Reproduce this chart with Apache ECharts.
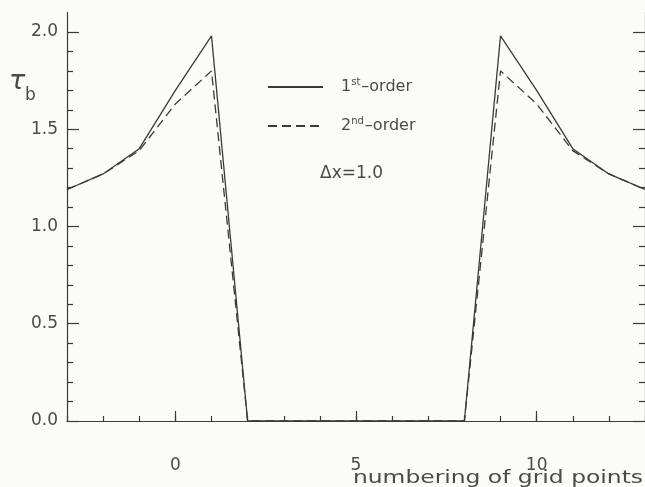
<!DOCTYPE html>
<html>
<head>
<meta charset="utf-8">
<script src="https://cdn.jsdelivr.net/npm/echarts@6/dist/echarts.min.js"></script>
<style>
  html, body { margin: 0; padding: 0; background: #fbfbf9; }
  #chart { width: 645px; height: 487px; }
</style>
</head>
<body>
<div id="chart"></div>
<script>
// Grid point numbers along the x axis
const gridPoints = [-3, -2, -1, 0, 1, 2, 3, 4, 5, 6, 7, 8, 9, 10, 11, 12, 13];
// Basal shear stress tau_b for the two schemes
const firstOrder  = [1.19, 1.27, 1.40, 1.70, 1.98, 0, 0, 0, 0, 0, 0, 0, 1.98, 1.70, 1.40, 1.27, 1.19];
const secondOrder = [1.19, 1.27, 1.39, 1.63, 1.80, 0, 0, 0, 0, 0, 0, 0, 1.80, 1.63, 1.39, 1.27, 1.19];

// Tick values
const xMajorTicks = [0, 5, 10];
const yMajorTicks = [0, 0.5, 1.0, 1.5, 2.0];
const yMinorTicks = [0.1, 0.2, 0.3, 0.4, 0.6, 0.7, 0.8, 0.9, 1.1, 1.2, 1.3, 1.4, 1.6, 1.7, 1.8, 1.9];

const ink = '#3a3a3a';
const textInk = '#4a4a4a';
const font = 'DejaVu Sans';

const chart = echarts.init(document.getElementById('chart'), null, { renderer: 'canvas' });

function pairs(ys) { return gridPoints.map((x, i) => [x, ys[i]]); }

function yAxisPair(pos) {
  return [
    {
      type: 'value', position: pos, min: 0, max: 2.1, gridIndex: 0,
      axisLine: { show: true, onZero: false, lineStyle: { color: ink, width: 1.2 } },
      axisTick: { show: true, inside: true, length: 12, customValues: yMajorTicks, lineStyle: { color: ink, width: 1.2 } },
      axisLabel: {
        show: pos === 'left', customValues: yMajorTicks, margin: 9,
        formatter: v => v.toFixed(1), color: textInk, fontFamily: font, fontSize: 17
      },
      splitLine: { show: false }
    },
    {
      type: 'value', position: pos, min: 0, max: 2.1, gridIndex: 0,
      axisLine: { show: false, onZero: false },
      axisTick: { show: true, inside: true, length: 6, customValues: yMinorTicks, lineStyle: { color: ink, width: 1.2 } },
      axisLabel: { show: false },
      splitLine: { show: false }
    }
  ];
}

const option = {
  backgroundColor: '#fbfbf9',
  animation: false,
  grid: { left: 67, top: 12.5, width: 579, height: 408.5, containLabel: false },
  xAxis: [
    {
      type: 'value', position: 'bottom', min: -3, max: 13,
      axisLine: { show: true, onZero: false, lineStyle: { color: ink, width: 1.2 } },
      axisTick: { show: true, inside: true, length: 10, customValues: xMajorTicks, lineStyle: { color: ink, width: 1.2 } },
      axisLabel: { customValues: xMajorTicks, margin: 36, color: textInk, fontFamily: font, fontSize: 17 },
      splitLine: { show: false }
    },
    {
      type: 'value', position: 'bottom', min: -3, max: 13, interval: 1,
      axisLine: { show: false, onZero: false },
      axisTick: { show: true, inside: true, length: 5, lineStyle: { color: ink, width: 1.2 } },
      axisLabel: { show: false },
      splitLine: { show: false }
    }
  ],
  yAxis: [...yAxisPair('left'), ...yAxisPair('right')],
  legend: {
    orient: 'vertical', left: 262, top: 72,
    itemWidth: 55, itemHeight: 18, itemGap: 21,
    selectedMode: false,
    data: ['1st-order', '2nd-order'],
    itemStyle: { opacity: 0 },
    formatter: name => name === '1st-order' ? '1{sup|st}–order' : '2{sup|nd}–order',
    textStyle: {
      color: textInk, fontFamily: font, fontSize: 16, padding: [0, 0, 0, 13],
      rich: {
        sup: { fontSize: 10, fontFamily: font, color: textInk, verticalAlign: 'top', padding: [0, 1, 10, 0] }
      }
    }
  },
  series: [
    {
      name: '1st-order', type: 'line', xAxisIndex: 0, yAxisIndex: 0,
      data: pairs(firstOrder), symbol: 'none',
      lineStyle: { color: ink, width: 1.3, type: 'solid' },
      itemStyle: { color: ink }, z: 3
    },
    {
      name: '2nd-order', type: 'line', xAxisIndex: 0, yAxisIndex: 0,
      data: pairs(secondOrder), symbol: 'none',
      lineStyle: { color: ink, width: 1.3, type: [9, 5] },
      itemStyle: { color: ink }, z: 2
    }
  ],
  graphic: [
    { type: 'text', left: 320, top: 165, style: { text: 'Δx=1.0', fill: textInk, font: '17px "DejaVu Sans"' } },
    { type: 'text', left: 9, top: 68, style: { text: 'τ', fill: textInk, font: 'italic 27px "DejaVu Sans"' } },
    { type: 'text', left: 25, top: 87, style: { text: 'b', fill: textInk, font: '17px "DejaVu Sans"' } },
    {
      type: 'text', right: 2, top: 469, scaleX: 1.3,
      style: { text: 'numbering of grid points', fill: textInk, font: '18px "DejaVu Sans"' }
    }
  ]
};

chart.setOption(option);
</script>
</body>
</html>
